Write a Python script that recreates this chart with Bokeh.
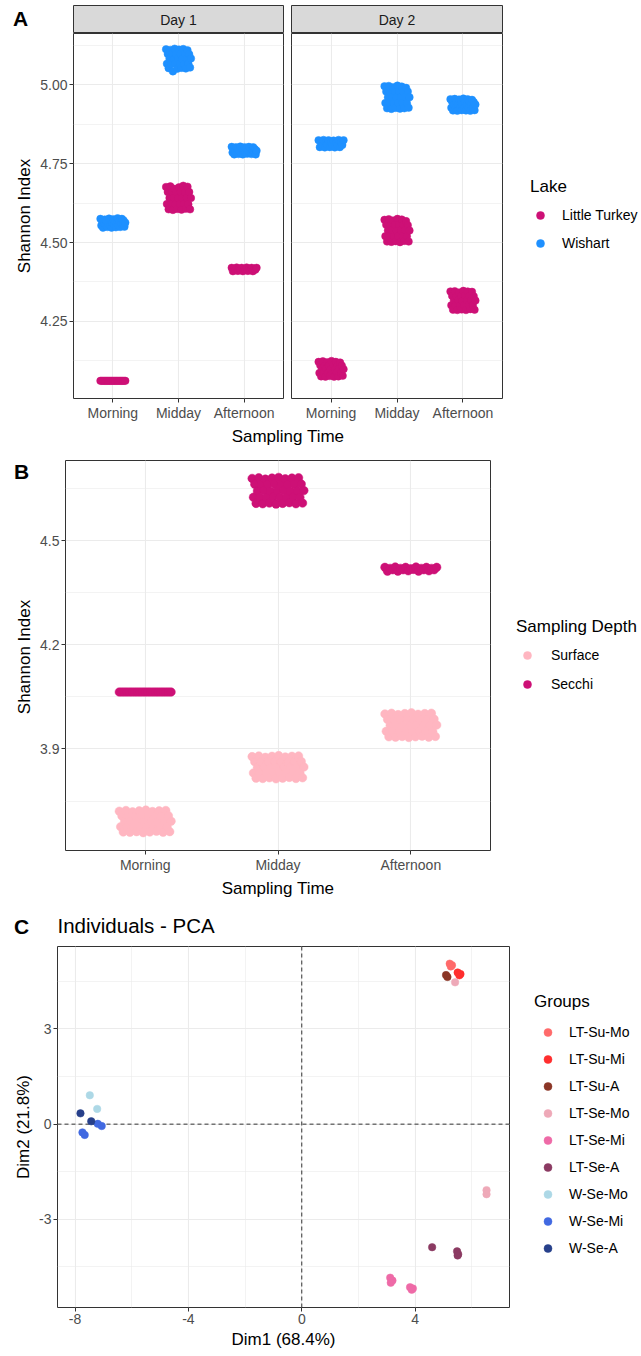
import math
from bokeh.plotting import figure
from bokeh.layouts import column, row
from bokeh.models import (FixedTicker, Legend, LegendItem, Label, Range1d, Span,
                          NumeralTickFormatter)
from bokeh.embed import file_html
from bokeh.resources import INLINE

# ------------------------------------------------------------------ data
TIMES = ["Morning", "Midday", "Afternoon"]
DAYS = ["Day 1", "Day 2"]
LAKES = ["Little Turkey", "Wishart"]
DEPTHS = ["Surface", "Secchi"]

# Panel A : Shannon index samples, one list per sampling time (Morning, Midday, Afternoon)
lt_day1 = [
    [4.062, 4.062, 4.062, 4.062, 4.062, 4.062, 4.062, 4.062, 4.062, 4.062, 4.062,
     4.062, 4.062, 4.062, 4.062, 4.062, 4.062, 4.062, 4.062, 4.062, 4.062],
    [4.676, 4.622, 4.660, 4.605, 4.641, 4.678, 4.623, 4.659, 4.603, 4.642,
     4.670, 4.621, 4.660, 4.606, 4.640, 4.675, 4.622, 4.661, 4.604, 4.641,
     4.680, 4.623, 4.659, 4.607, 4.642, 4.677, 4.621, 4.660, 4.605, 4.641],
    [4.420, 4.409, 4.417, 4.413, 4.421, 4.410, 4.417, 4.413, 4.420, 4.409, 4.416,
     4.414, 4.421, 4.410, 4.417, 4.413, 4.420, 4.409, 4.417, 4.414, 4.420],
]
w_day1 = [
    [4.575, 4.554, 4.568, 4.547, 4.561, 4.573, 4.555, 4.568, 4.549, 4.561,
     4.576, 4.554, 4.569, 4.547, 4.562, 4.574, 4.556, 4.568, 4.548, 4.561,
     4.577, 4.555, 4.569, 4.549, 4.562, 4.575, 4.556, 4.570, 4.550, 4.563],
    [5.112, 5.066, 5.097, 5.052, 5.082, 5.110, 5.065, 5.098, 5.042, 5.081,
     5.114, 5.067, 5.096, 5.050, 5.083, 5.111, 5.066, 5.097, 5.053, 5.082,
     5.113, 5.065, 5.098, 5.051, 5.081, 5.109, 5.067, 5.096, 5.054, 5.083],
    [4.803, 4.785, 4.797, 4.779, 4.791, 4.802, 4.786, 4.797, 4.780, 4.791,
     4.804, 4.785, 4.796, 4.779, 4.790, 4.802, 4.785, 4.797, 4.781, 4.791,
     4.803, 4.786, 4.797, 4.780, 4.792, 4.802, 4.785, 4.796, 4.779, 4.791],
]
lt_day2 = [
    [4.122, 4.087, 4.111, 4.076, 4.099, 4.124, 4.088, 4.110, 4.075, 4.100,
     4.121, 4.087, 4.111, 4.077, 4.098, 4.125, 4.086, 4.112, 4.075, 4.099,
     4.122, 4.088, 4.111, 4.076, 4.100, 4.120, 4.087, 4.110, 4.078, 4.099],
    [4.572, 4.520, 4.556, 4.503, 4.538, 4.574, 4.521, 4.555, 4.502, 4.539,
     4.570, 4.519, 4.556, 4.504, 4.537, 4.575, 4.520, 4.557, 4.501, 4.538,
     4.573, 4.521, 4.556, 4.505, 4.539, 4.568, 4.520, 4.555, 4.503, 4.538],
    [4.345, 4.301, 4.331, 4.287, 4.316, 4.346, 4.302, 4.330, 4.286, 4.317,
     4.342, 4.300, 4.331, 4.288, 4.315, 4.347, 4.301, 4.332, 4.286, 4.316,
     4.345, 4.302, 4.331, 4.289, 4.317, 4.344, 4.301, 4.330, 4.287, 4.316],
]
w_day2 = [
    [4.824, 4.802, 4.817, 4.809, 4.825, 4.801, 4.816, 4.810, 4.824, 4.802, 4.817,
     4.809, 4.823, 4.801, 4.816, 4.810, 4.825, 4.802, 4.817, 4.809, 4.824],
    [4.995, 4.942, 4.978, 4.925, 4.960, 4.996, 4.943, 4.977, 4.923, 4.961,
     4.992, 4.941, 4.979, 4.926, 4.959, 4.997, 4.942, 4.978, 4.924, 4.960,
     4.994, 4.943, 4.977, 4.925, 4.961, 4.990, 4.941, 4.978, 4.927, 4.960],
    [4.954, 4.927, 4.946, 4.918, 4.936, 4.955, 4.926, 4.945, 4.917, 4.937,
     4.953, 4.927, 4.946, 4.919, 4.936, 4.956, 4.928, 4.945, 4.918, 4.935,
     4.954, 4.927, 4.946, 4.917, 4.936, 4.952, 4.926, 4.945, 4.919, 4.937],
]

# Panel B : Little Turkey, Shannon index by sampling depth
surface = [
    [3.721, 3.676, 3.707, 3.661, 3.691, 3.723, 3.675, 3.706, 3.660, 3.692,
     3.719, 3.676, 3.707, 3.662, 3.690, 3.722, 3.677, 3.708, 3.659, 3.691,
     3.724, 3.675, 3.707, 3.661, 3.692, 3.720, 3.676, 3.706, 3.663, 3.690,
     3.722, 3.677, 3.707, 3.660, 3.691, 3.723, 3.676, 3.708, 3.662, 3.692],
    [3.878, 3.831, 3.863, 3.816, 3.847, 3.880, 3.830, 3.862, 3.815, 3.848,
     3.876, 3.831, 3.863, 3.817, 3.846, 3.879, 3.832, 3.864, 3.814, 3.847,
     3.881, 3.830, 3.863, 3.816, 3.848, 3.877, 3.831, 3.862, 3.818, 3.846,
     3.879, 3.832, 3.863, 3.815, 3.847, 3.880, 3.831, 3.864, 3.817, 3.848],
    [4.001, 3.951, 3.985, 3.935, 3.968, 4.003, 3.950, 3.984, 3.934, 3.969,
     3.999, 3.951, 3.985, 3.936, 3.967, 4.002, 3.952, 3.986, 3.933, 3.968,
     4.004, 3.950, 3.985, 3.935, 3.969, 4.000, 3.951, 3.984, 3.937, 3.967,
     4.002, 3.952, 3.985, 3.934, 3.968, 4.003, 3.951, 3.986, 3.936, 3.969],
]
secchi = [
    [4.064, 4.064, 4.064, 4.064, 4.064, 4.064, 4.064, 4.064, 4.064, 4.064, 4.064,
     4.064, 4.064, 4.064, 4.064, 4.064, 4.064, 4.064, 4.064, 4.064, 4.064],
    [4.679, 4.625, 4.662, 4.607, 4.643, 4.681, 4.624, 4.661, 4.606, 4.644,
     4.677, 4.625, 4.662, 4.608, 4.642, 4.680, 4.626, 4.663, 4.605, 4.643,
     4.682, 4.624, 4.662, 4.607, 4.644, 4.678, 4.625, 4.661, 4.609, 4.642,
     4.680, 4.626, 4.662, 4.606, 4.643, 4.681, 4.625, 4.663, 4.608, 4.644],
    [4.423, 4.412, 4.420, 4.416, 4.424, 4.412, 4.420, 4.416, 4.423, 4.413, 4.419,
     4.417, 4.424, 4.412, 4.420, 4.416, 4.423, 4.413, 4.420, 4.416, 4.423],
]

# Panel C : PCA individuals
GROUPS = ["LT-Su-Mo", "LT-Su-Mi", "LT-Su-A", "LT-Se-Mo", "LT-Se-Mi", "LT-Se-A",
          "W-Se-Mo", "W-Se-Mi", "W-Se-A"]
pca_group = ["LT-Su-Mo", "LT-Su-Mo", "LT-Su-Mo",
             "LT-Su-Mi", "LT-Su-Mi", "LT-Su-Mi",
             "LT-Su-A", "LT-Su-A",
             "LT-Se-Mo", "LT-Se-Mo", "LT-Se-Mo",
             "LT-Se-Mi", "LT-Se-Mi", "LT-Se-Mi", "LT-Se-Mi", "LT-Se-Mi", "LT-Se-Mi",
             "LT-Se-A", "LT-Se-A", "LT-Se-A", "LT-Se-A",
             "W-Se-Mo", "W-Se-Mo",
             "W-Se-Mi", "W-Se-Mi", "W-Se-Mi", "W-Se-Mi",
             "W-Se-A", "W-Se-A"]
pca_dim1 = [5.22, 5.30, 5.26,
            5.50, 5.60, 5.56,
            5.09, 5.14,
            5.41, 6.52, 6.52,
            3.12, 3.20, 3.14, 3.82, 3.92, 3.88,
            4.60, 5.48, 5.52, 5.50,
            -7.48, -7.22,
            -7.74, -7.66, -7.20, -7.06,
            -7.81, -7.43]
pca_dim2 = [5.06, 5.01, 4.97,
            4.78, 4.73, 4.69,
            4.70, 4.64,
            4.47, -2.08, -2.21,
            -4.84, -4.93, -5.00, -5.14, -5.18, -5.22,
            -3.88, -4.01, -4.10, -4.14,
            0.91, 0.48,
            -0.26, -0.34, 0.01, -0.06,
            0.34, 0.09]

# ------------------------------------------------------------------ style
FONT = "Liberation Sans"
DARK = "#333333"
TICK_TEXT = "#4D4D4D"
GRID = "#EBEBEB"
LT_COL = "#CD1076"
W_COL = "#1E90FF"
SURF_COL = "#FFB6C1"
GROUP_COLORS = ["#FF6A6A", "#FF2E2E", "#8B3626", "#EEA9B8", "#EE6AA7", "#8B3A62",
                "#ADD8E6", "#4169E1", "#27408B"]
JITTER_A = 0.19   # half width of the horizontal jitter, category units
JITTER_B = 0.195


def jittered(groups, half_width):
    """Spread the samples of each category evenly across the jitter band."""
    xs, ys = [], []
    for i, vals in enumerate(groups):
        n = len(vals)
        for j, v in enumerate(vals):
            xs.append(i + 1 - half_width + 2 * half_width * j / (n - 1))
            ys.append(v)
    return xs, ys


def make_fig(w, h, left, right, top, bottom, xr=(0, 1), yr=(0, 1)):
    p = figure(width=w, height=h, x_range=Range1d(*xr), y_range=Range1d(*yr),
               output_backend="svg", toolbar_location=None, frame_align=False,
               min_border_left=left, min_border_right=right,
               min_border_top=top, min_border_bottom=bottom)
    p.background_fill_color = "white"
    p.border_fill_color = "white"
    p.outline_line_color = DARK
    p.outline_line_width = 1
    return p


def blank_fig(w, h):
    p = make_fig(w, h, 0, 0, 0, 0, (0, w), (0, h))
    p.outline_line_color = None
    p.axis.visible = False
    p.grid.visible = False
    return p


def text_label(p, text, x, y, size, bold=False, align="center", color="black", angle=0.0,
               baseline="middle"):
    p.add_layout(Label(x=x, y=y, x_units="screen", y_units="screen", text=text,
                       text_font=FONT, text_font_size=size,
                       text_font_style="bold" if bold else "normal",
                       text_color=color, text_align=align, text_baseline=baseline,
                       angle=angle))


def style_axes(p, xticks, yticks, xminor=(), yminor=()):
    xt = FixedTicker(ticks=list(xticks), minor_ticks=list(xminor))
    yt = FixedTicker(ticks=list(yticks), minor_ticks=list(yminor))
    p.xaxis.ticker = xt
    p.yaxis.ticker = yt
    p.xgrid.ticker = xt
    p.ygrid.ticker = yt
    for g in (p.xgrid, p.ygrid):
        g.grid_line_color = GRID
        g.grid_line_width = 1.1
    p.xgrid.minor_grid_line_color = GRID if len(xminor) else None
    p.ygrid.minor_grid_line_color = GRID if len(yminor) else None
    p.xgrid.minor_grid_line_width = 0.6
    p.ygrid.minor_grid_line_width = 0.6
    for ax in p.axis:
        ax.axis_line_color = None
        ax.major_tick_line_color = DARK
        ax.major_tick_line_width = 1
        ax.major_tick_out = 4
        ax.major_tick_in = 0
        ax.minor_tick_line_color = None
        ax.major_label_text_font = FONT
        ax.major_label_text_font_size = "14px"
        ax.major_label_text_color = TICK_TEXT
        ax.major_label_standoff = 2
        ax.axis_label_text_font = FONT
        ax.axis_label_text_font_size = "17px"
        ax.axis_label_text_font_style = "normal"
        ax.axis_label_text_color = "black"
        ax.axis_label_standoff = 3


def legend_fig(w, h, title, labels, colors, size, x, y, gw, spacing, standoff, tstand):
    """A small figure whose frame holds only the legend; key-only renderers (NaN point)."""
    lf = blank_fig(w, h)
    items = []
    for lab, col in zip(labels, colors):
        r = lf.scatter(x=[math.nan], y=[math.nan], size=size, marker="circle",
                       fill_color=col, line_color=col, line_width=0.5)
        items.append(LegendItem(label=lab, renderers=[r]))
    lf.add_layout(Legend(items=items, title=title, location=(x, y),
                         title_text_font=FONT, title_text_font_size="17px",
                         title_text_font_style="normal", title_text_color="black",
                         title_standoff=tstand,
                         label_text_font=FONT, label_text_font_size="14px",
                         label_text_color="black", label_standoff=standoff,
                         glyph_width=gw, glyph_height=20, label_height=20,
                         spacing=spacing, padding=0, margin=0,
                         border_line_color=None, background_fill_alpha=0))
    return lf


# ------------------------------------------------------------------ panel A
A_YR = (4.006, 5.162)
CAT_XR = (0.4, 3.6)
cat_labels = {i + 1: t for i, t in enumerate(TIMES)}
A_YT = [4.25, 4.5, 4.75, 5.0]
A_YM = [4.125, 4.375, 4.625, 4.875, 5.125]

tagA = blank_fig(72, 33)
text_label(tagA, "A", 20, 15.5, "21px", bold=True)

strips = []
panels = []
facet_specs = [
    (DAYS[0], lt_day1, w_day1, 215, 287, 1, 73, 4),
    (DAYS[1], lt_day2, w_day2, 223, 223, 4, 4, 8),
]
for k, (day, lt_vals, w_vals, sw, pw, sleft, pleft, right) in enumerate(facet_specs):
    strip = make_fig(sw, 33, sleft, right, 5, 0)
    strip.background_fill_color = "#D9D9D9"
    strip.axis.visible = False
    strip.grid.visible = False
    strip.add_layout(Label(x=0.5, y=0.5, text=day, text_font=FONT, text_font_size="14px",
                           text_color="#1A1A1A", text_align="center",
                           text_baseline="middle"))
    strips.append(strip)

    p = make_fig(pw, 390, pleft, right, 0, 23, CAT_XR, A_YR)
    style_axes(p, [1, 2, 3], A_YT, (), A_YM)
    p.xaxis.major_label_overrides = cat_labels
    p.yaxis.formatter = NumeralTickFormatter(format="0.00")
    xs, ys = jittered(lt_vals, JITTER_A)
    p.scatter(xs, ys, size=7.5, marker="circle", fill_color=LT_COL,
              line_color=LT_COL, line_width=0.5)
    xs, ys = jittered(w_vals, JITTER_A)
    p.scatter(xs, ys, size=7.5, marker="circle", fill_color=W_COL,
              line_color=W_COL, line_width=0.5)
    if k == 0:
        p.yaxis.axis_label = "Shannon Index"
    else:
        p.yaxis.visible = False
    panels.append(p)

legA = legend_fig(131, 423, "Lake", LAKES, [LT_COL, W_COL], 8,
                  20, 423 - 253, 20, 8, 12, 8)

xt = blank_fig(641, 27)
text_label(xt, "Sampling Time", 73 + (502 - 73) / 2, 14, "17px", baseline="alphabetic")

# ------------------------------------------------------------------ panel B
leftB = blank_fig(34, 450)
text_label(leftB, "B", 21, 450 - 21, "21px", bold=True)
text_label(leftB, "Shannon Index", 24, 450 - 206.5, "17px", angle=math.pi / 2)

pB = make_fig(464, 450, 31, 8, 10, 47, CAT_XR, (3.6077, 4.7306))
style_axes(pB, [1, 2, 3], [3.9, 4.2, 4.5], (), [3.75, 4.05, 4.35, 4.65])
pB.xaxis.major_label_overrides = cat_labels
pB.yaxis.formatter = NumeralTickFormatter(format="0.0")
pB.xaxis.axis_label = "Sampling Time"
xs, ys = jittered(surface, JITTER_B)
pB.scatter(xs, ys, size=8.5, marker="circle", fill_color=SURF_COL,
           line_color=SURF_COL, line_width=0.5)
xs, ys = jittered(secchi, JITTER_B)
pB.scatter(xs, ys, size=8.5, marker="circle", fill_color=LT_COL,
           line_color=LT_COL, line_width=0.5)
legB = legend_fig(143, 450, "Sampling Depth", DEPTHS, [SURF_COL, LT_COL], 8.5,
                  18, 900 - 694, 22, 9, 13, 8)

# ------------------------------------------------------------------ panel C
hC = blank_fig(641, 45)
text_label(hC, "C", 21, 19.5, "21px", bold=True)
text_label(hC, "Individuals - PCA", 57, 20, "20.5px", align="left")

pC = make_fig(517, 411, 57, 8, 1, 49, (-8.62, 7.33), (-5.78, 5.60))
style_axes(pC, [-8, -4, 0, 4], [-3, 0, 3], [-6, -2, 2, 6], [-4.5, -1.5, 1.5, 4.5])
pC.xaxis.major_label_overrides = {-8: "-8", -4: "-4", 0: "0", 4: "4"}
pC.yaxis.major_label_overrides = {-3: "-3", 0: "0", 3: "3"}
pC.xaxis.axis_label = "Dim1 (68.4%)"
pC.yaxis.axis_label = "Dim2 (21.8%)"
for dim in ("width", "height"):
    pC.add_layout(Span(location=0, dimension=dim, line_color=DARK, line_width=1,
                       line_dash="4 3", level="underlay"))
for g, col in zip(GROUPS, GROUP_COLORS):
    gx = [x for x, n in zip(pca_dim1, pca_group) if n == g]
    gy = [y for y, n in zip(pca_dim2, pca_group) if n == g]
    pC.scatter(gx, gy, size=7.5, marker="circle", fill_color=col, line_color=col,
               line_width=0.5)
legC = legend_fig(124, 411, "Groups", GROUPS, GROUP_COLORS, 6.5,
                  17, 1356 - 1258, 27, 7, 8, 10)

layout = column(
    row(column(row(tagA, strips[0], strips[1]), row(panels[0], panels[1])), legA),
    xt,
    row(leftB, pB, legB),
    hC,
    row(pC, legC),
)
open("out.html", "w").write(file_html(layout, INLINE))
